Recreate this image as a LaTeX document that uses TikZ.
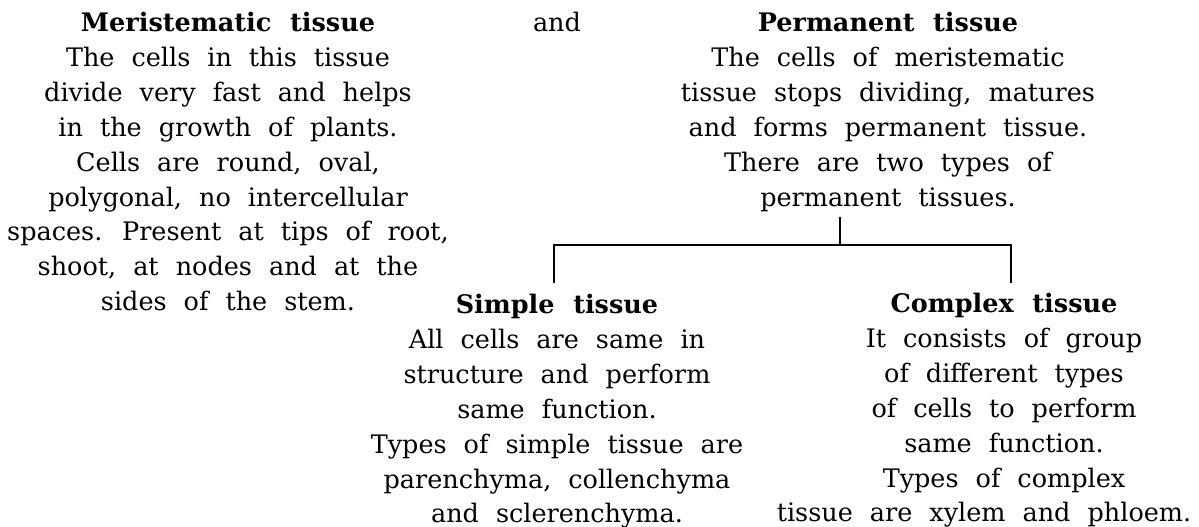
\documentclass[tikz,border=0pt]{standalone}
\usepackage{fontspec}
\setmainfont[WordSpace=2.1]{DejaVu Serif}
\begin{document}
\begin{tikzpicture}[x=1pt,y=-1pt,
  block/.style={align=center,inner sep=0pt,anchor=north,
    font=\fontsize{25.5}{34.9}\selectfont},
  conn/.style={line width=1.6pt}]
\useasboundingbox[fill=white] (0,0) rectangle (1199,527);
\node[block] (mer) at (228,12) {\textbf{Meristematic tissue}\\
The cells in this tissue\\
divide very fast and helps\\
in the growth of plants.\\
Cells are round, oval,\\
polygonal, no intercellular\\
spaces. Present at tips of root,\\
shoot, at nodes and at the\\
sides of the stem.};
\node[block] (and) at (557,12) {and};
\node[block] (perm) at (888,12) {\textbf{Permanent tissue}\\
The cells of meristematic\\
tissue stops dividing, matures\\
and forms permanent tissue.\\
There are two types of\\
permanent tissues.};
\node[block] (simple) at (557,294) {\textbf{Simple tissue}\\
All cells are same in\\
structure and perform\\
same function.\\
Types of simple tissue are\\
parenchyma, collenchyma\\
and sclerenchyma.};
\node[block] (complex) at (1004,293) {\textbf{Complex tissue}\\
It consists of group\\
of different types\\
of cells to perform\\
same function.\\
Types of complex\\
tissue are xylem and phloem.\hspace*{40pt}};
\coordinate (j) at (840,245);
\coordinate (sl) at (554,283);
\coordinate (cr) at (1011,283);
\draw[conn] (j |- 0,217) -- (j);
\draw[conn] (sl) |- (j) -| (cr);
\end{tikzpicture}
\end{document}
